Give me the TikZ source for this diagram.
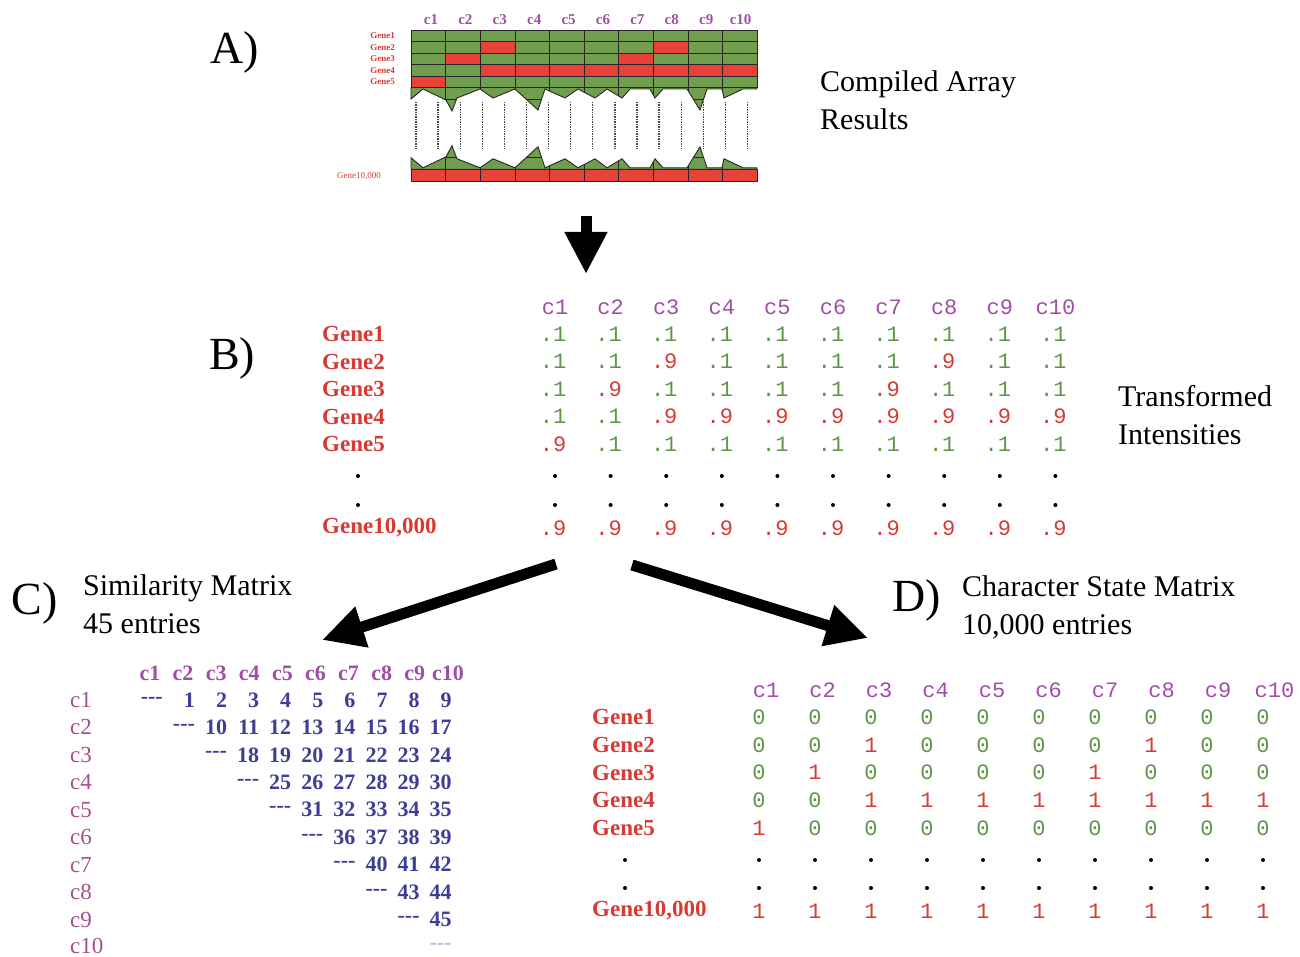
\documentclass[tikz,border=0pt]{standalone}
\usepackage{fontspec}
\setmainfont{Liberation Serif}
\setmonofont{Liberation Mono}
\usetikzlibrary{arrows.meta}
\definecolor{genered}{RGB}{214,58,52}
\definecolor{cellred}{RGB}{232,66,56}
\definecolor{cellgreen}{RGB}{112,158,78}
\definecolor{valgreen}{RGB}{92,150,70}
\definecolor{colpurple}{RGB}{160,78,165}
\definecolor{rowpurple}{RGB}{165,80,140}
\definecolor{numblue}{RGB}{62,62,150}
\colorlet{valc0}{valgreen}
\colorlet{valc1}{genered}
\tikzset{
  panel/.style={inner sep=0pt, font=\fontsize{46}{50}\selectfont},
  caption/.style={inner sep=0pt, align=left, anchor=west, font=\fontsize{30}{38}\selectfont},
  genelab/.style={inner sep=0pt, text=genered, anchor=west, font=\bfseries\fontsize{23}{26}\selectfont},
  colhead/.style={inner sep=0pt, text=colpurple, font=\ttfamily\fontsize{22}{24}\selectfont},
  val/.style={inner sep=0pt, font=\ttfamily\fontsize{22}{24}\selectfont},
  dotmark/.style={circle, fill=black, inner sep=0pt, minimum size=4pt},
  agene/.style={inner sep=0pt, text=genered, anchor=east, font=\bfseries\fontsize{9}{10}\selectfont},
  acol/.style={inner sep=0pt, text=colpurple, font=\bfseries\fontsize{15}{17}\selectfont},
  cell/.style={draw=black!85, line width=0.9pt},
  tear/.style={gray!55!black, line width=1.3pt, dash pattern=on 0.8pt off 0.9pt},
  chead/.style={inner sep=0pt, text=colpurple, font=\bfseries\fontsize{22}{24}\selectfont},
  crow/.style={inner sep=0pt, text=rowpurple, anchor=west, font=\fontsize{23}{25}\selectfont},
  cnum/.style={inner sep=0pt, text=numblue, anchor=east, font=\bfseries\fontsize{22}{24}\selectfont},
  bigarrow/.style={line width=11pt, -{Triangle[length=42pt,width=40pt]}},
}
\def\tornTop{(411,87.5) -- (757,87.5) -- (757,89) -- (743,89) -- (724,98) -- (722,89) -- (707,89) -- (700,110) -- (687,89) -- (663,89) -- (655,98) -- (650,89) -- (630,89) -- (622,98) -- (607,89) -- (595,98) -- (578,89) -- (565,98) -- (545,89) -- (538,110) -- (515,89) -- (493,98) -- (480,89) -- (457,98) -- (452,111) -- (446,100) -- (423,89) -- (411,99) -- cycle}
\def\tornBot{(411,169.3) -- (757,169.3) -- (757,167.8) -- (743,167.8) -- (724,158.8) -- (722,167.8) -- (707,167.8) -- (700,146.8) -- (687,167.8) -- (663,167.8) -- (655,158.8) -- (650,167.8) -- (630,167.8) -- (622,158.8) -- (607,167.8) -- (595,158.8) -- (578,167.8) -- (565,158.8) -- (545,167.8) -- (538,146.8) -- (515,167.8) -- (493,158.8) -- (480,167.8) -- (457,158.8) -- (452,145.8) -- (446,156.8) -- (423,167.8) -- (411,157.8) -- cycle}
\def\tridash{-{}-{}-}

\begin{document}
\begin{tikzpicture}[x=1pt,y=-1pt]
\useasboundingbox (0,0) rectangle (1300,957);

\node[panel] (labA) at (235,52) {A)};
\node[caption] (capA) at (820,100) {Compiled Array\\Results};
\foreach \j in {1,...,10} \node[acol] (ac\j) at ({431+34.4*(\j-1)},20) {c\j};
\foreach \i in {1,...,5} {
  \node[agene] (ag\i) at (395,{35.75+11.5*(\i-1)}) {Gene\i};
  \foreach \j in {1,...,10}
    \filldraw[cell, fill=cellgreen] ({411+34.65*(\j-1)},{30+11.5*(\i-1)}) rectangle +(34.65,11.5);
}
\foreach \i/\j in {2/3,2/8,3/2,3/7,4/3,4/4,4/5,4/6,4/7,4/8,4/9,4/10,5/1}
  \filldraw[cell, fill=cellred] ({411+34.65*(\j-1)},{30+11.5*(\i-1)}) rectangle +(34.65,11.5);
\begin{scope}
  \clip \tornTop;
  \fill[cellgreen] (411,87) rectangle (757,112);
  \draw[cell] (411,99.3) -- (757,99.3);
  \foreach \j in {1,...,9} \draw[cell] ({411+34.65*\j},87) -- +(0,25);
\end{scope}
\draw[cell] \tornTop;
\begin{scope}
  \clip \tornBot;
  \fill[cellgreen] (411,145) rectangle (757,170);
  \draw[cell] (411,157.5) -- (757,157.5);
  \foreach \j in {1,...,9} \draw[cell] ({411+34.65*\j},145) -- +(0,25);
\end{scope}
\draw[cell] \tornBot;
\foreach \k in {0,...,15} \draw[tear] ({416+22.1*\k},102) -- +(0,47);
\foreach \j in {1,...,10}
  \filldraw[cell, fill=cellred] ({411+34.65*(\j-1)},169.3) rectangle +(34.65,11.7);
\node[agene, font=\fontsize{9}{10}\selectfont] (ag10k) at (381,176.5) {Gene10,000};

\coordinate (arrA0) at (586,216);
\coordinate (arrA1) at (586,274);
\draw[bigarrow] (arrA0) -- (arrA1);

\node[panel] (labB) at (232,358) {B)};
\node[caption] (capB) at (1118,415) {Transformed\\Intensities};
\foreach \j in {1,...,10} \node[colhead] (bc\j) at ({555+55.6*(\j-1)},307) {c\j};
\foreach \i/\row in {1/{0,0,0,0,0,0,0,0,0,0}, 2/{0,0,1,0,0,0,0,1,0,0}, 3/{0,1,0,0,0,0,1,0,0,0}, 4/{0,0,1,1,1,1,1,1,1,1}, 5/{1,0,0,0,0,0,0,0,0,0}} {
  \node[genelab] (bg\i) at (322,{334+27.5*(\i-1)}) {Gene\i};
  \foreach \v [count=\j] in \row
    \node[val, text=valc\v] (b\i-\j) at ({553+55.6*(\j-1)},{334+27.5*(\i-1)}) {\ifcase\v .1\or .9\fi};
}
\foreach \k/\y in {1/476,2/505} {
  \node[dotmark] (bd\k-0) at (358,\y) {};
  \foreach \j in {1,...,10} \node[dotmark] (bd\k-\j) at ({555+55.6*(\j-1)},\y) {};
}
\node[genelab] (bg10k) at (322,528) {Gene10,000};
\foreach \j in {1,...,10} \node[val, text=genered] (bk-\j) at ({553+55.6*(\j-1)},528) {.9};

\coordinate (arrC0) at (556,564);
\coordinate (arrC1) at (322,640);
\draw[bigarrow] (arrC0) -- (arrC1);
\coordinate (arrD0) at (632,565);
\coordinate (arrD1) at (868,638);
\draw[bigarrow] (arrD0) -- (arrD1);

\node[panel] (labC) at (35,603) {C)};
\node[caption] (capC) at (83,604) {Similarity Matrix\\45 entries};
\foreach \j in {1,...,10} \node[chead] (cc\j) at ({150+33.1*(\j-1)},673) {c\j};
\foreach \i in {1,...,9} {
  \node[crow] (cr\i) at (70,{700+27.45*(\i-1)}) {c\i};
  \foreach \j in {\i,...,10} {
    \pgfmathtruncatemacro\n{(\i-1)*10-(\i-1)*\i/2+\j-\i}
    \node[cnum] (cm\i-\j) at ({163+32.1*(\j-1)},{700+27.45*(\i-1)}) {\ifnum\j=\i \tridash\else\n\fi};
  }
}
\node[crow] (cr10) at (70,946) {c10};
\node[cnum, text=numblue!35] (cm10-10) at (452,946) {\tridash};

\node[panel] (labD) at (917,600) {D)};
\node[caption] (capD) at (962,607) {Character State Matrix\\10,000 entries};
\foreach \j in {1,...,10} \node[colhead] (dc\j) at ({766+56.5*(\j-1)},690) {c\j};
\foreach \i/\row in {1/{0,0,0,0,0,0,0,0,0,0}, 2/{0,0,1,0,0,0,0,1,0,0}, 3/{0,1,0,0,0,0,1,0,0,0}, 4/{0,0,1,1,1,1,1,1,1,1}, 5/{1,0,0,0,0,0,0,0,0,0}} {
  \node[genelab] (dg\i) at (592,{717+27.75*(\i-1)}) {Gene\i};
  \foreach \v [count=\j] in \row
    \node[val, text=valc\v] (d\i-\j) at ({759+56*(\j-1)},{717+27.75*(\i-1)}) {\v};
}
\foreach \k/\y in {1/860,2/888} {
  \node[dotmark] (dd\k-0) at (625,\y) {};
  \foreach \j in {1,...,10} \node[dotmark] (dd\k-\j) at ({759+56*(\j-1)},\y) {};
}
\node[genelab] (dg10k) at (592,911) {Gene10,000};
\foreach \j in {1,...,10} \node[val, text=genered] (dk-\j) at ({759+56*(\j-1)},911) {1};
\end{tikzpicture}
\end{document}
